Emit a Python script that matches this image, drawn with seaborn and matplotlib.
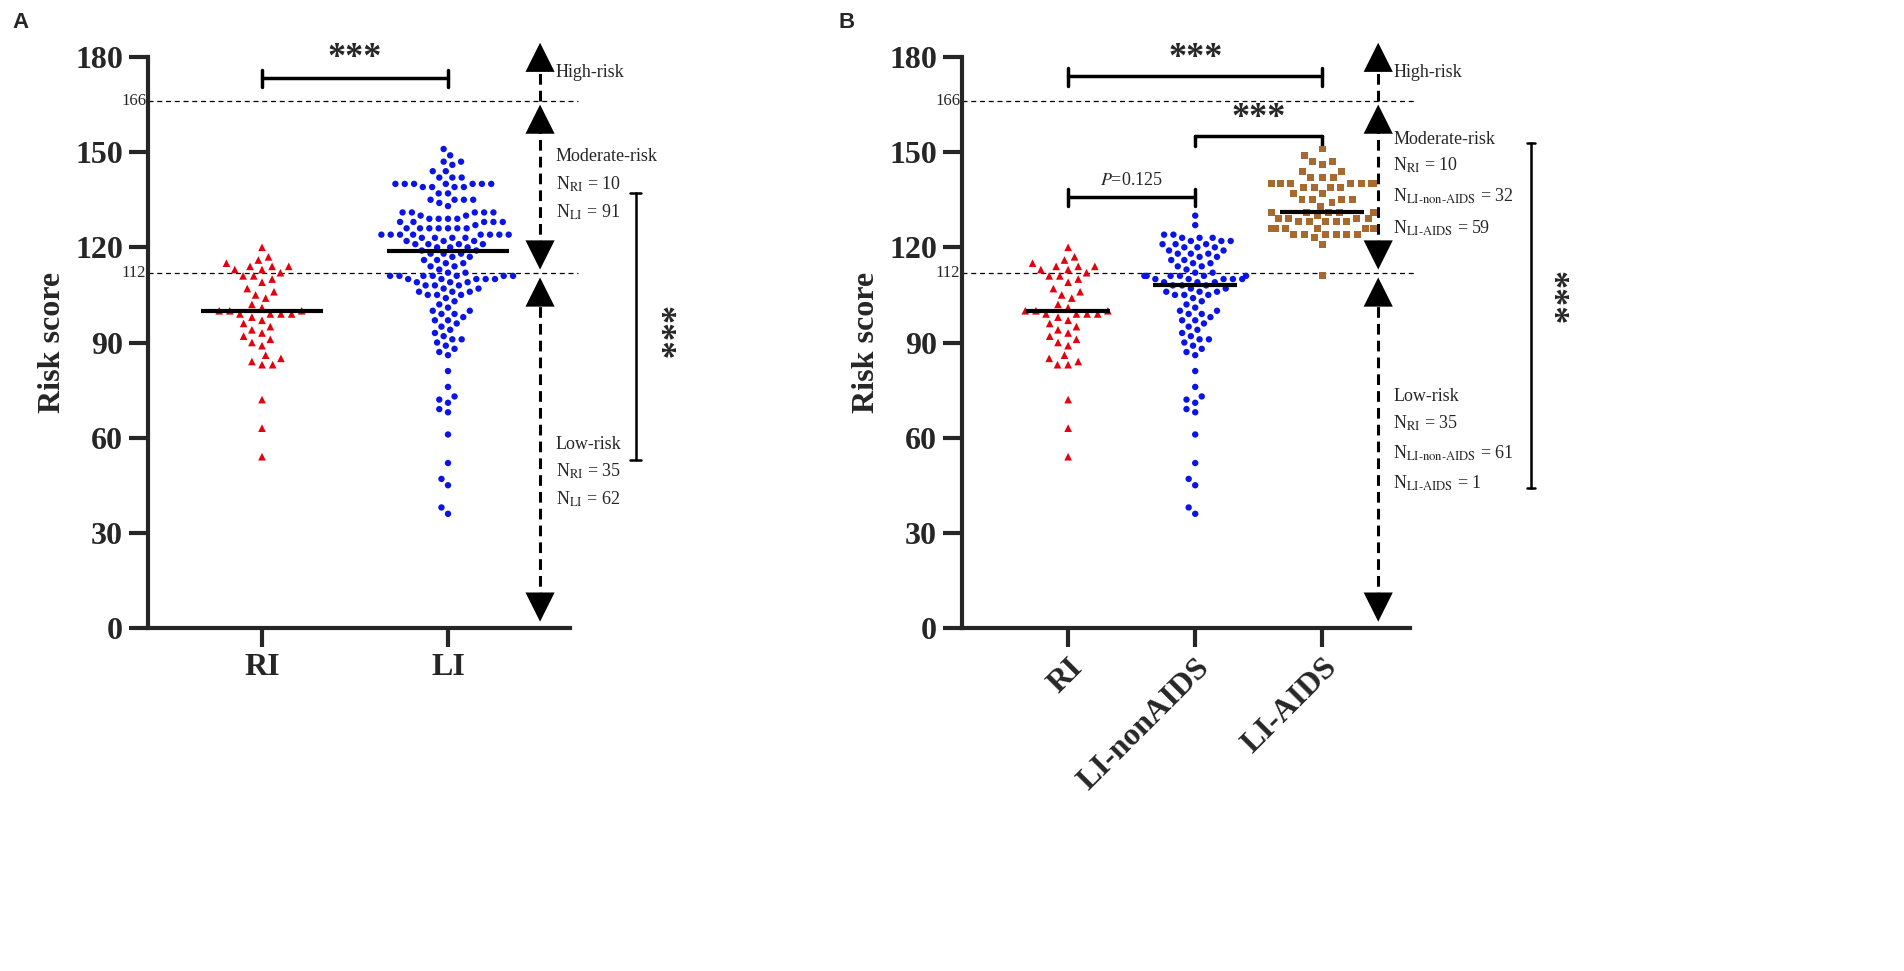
import matplotlib
matplotlib.use("Agg")
import matplotlib.pyplot as plt
import seaborn as sns
import numpy as np
import pandas as pd

# Data (risk scores)
ri = [120, 117, 116, 115, 114, 114, 114, 113, 113, 112,
      111, 111, 110, 109, 107, 106, 105, 104, 102, 101,
      100, 100, 100, 99, 99, 99, 99, 98, 97, 96,
      95, 94, 93, 92, 91, 90, 89, 86, 85, 84,
      83, 83, 72, 63, 54]

li_nonaids = ([130, 127, 124, 124, 123, 123, 123, 122, 122, 122,
               121, 121, 121, 120, 120, 120, 119, 119, 118, 118,
               118, 117, 117, 116, 116, 115, 115, 114, 114, 113,
               112, 112]
              + [111] * 6 + [110] * 5 + [109] * 3 + [108] * 3 + [107] * 2
              + [106] * 3 + [105] * 3
              + [104, 103, 102, 101, 100, 100, 99, 99, 98, 97, 97, 92,
                 96, 95, 94, 93, 91, 91, 90, 89,
                 88, 87, 86, 81, 76, 73, 72, 71, 69, 68, 61, 52, 47, 45, 38, 36])

li_aids = [151, 149, 147, 147, 146, 144, 144, 142, 142, 142,
           140, 140, 140, 140, 140, 140, 140, 139, 139, 139,
           139, 137, 137, 135, 135, 135, 135, 134, 133, 131,
           131, 131, 131, 131, 130, 129, 129, 129, 129, 128,
           128, 128, 128, 128, 126, 126, 126, 126, 126, 126,
           126, 124, 124, 124, 124, 124, 124, 123, 121, 111]

li = li_nonaids + li_aids

cats_a = ["RI", "LI"]
cats_b = ["RI", "LI-nonAIDS", "LI-AIDS"]
cut_low, cut_high = 112, 166

RED = "#e3000f"
BLUE = "#0b14e6"
BROWN = "#a66a30"

sns.set_style("ticks")
plt.rcParams["font.family"] = ["Liberation Serif", "DejaVu Serif"]
plt.rcParams["mathtext.fontset"] = "stix"

fig = plt.figure(figsize=(19.04, 9.71), dpi=100)
axA = fig.add_axes([148 / 1904, 1 - 628 / 971, (570 - 148) / 1904, (628 - 57) / 971])
axB = fig.add_axes([962 / 1904, 1 - 628 / 971, (1410 - 962) / 1904, (628 - 57) / 971])

TICK_FS = 23


def swarm(ax, name, vals, order, color, marker, size, gap):
    # an invisible edge widens the spacing seaborn uses between points
    sns.swarmplot(x=[name] * len(vals), y=vals, order=order, color=color,
                  marker=marker, size=size, linewidth=gap, edgecolor="none",
                  ax=ax, warn_thresh=1)
    i = order.index(name)
    med = np.median(vals)
    ax.plot([i - 0.33, i + 0.33], [med, med], color="black", lw=3,
            solid_capstyle="butt", zorder=5)


def style_axis(ax, xlim, xr):
    ax.set_xlim(*xlim)
    ax.set_ylim(0, 180)
    ax.set_yticks(np.arange(0, 181, 30))
    for s in ["top", "right"]:
        ax.spines[s].set_visible(False)
    for s in ["left", "bottom"]:
        ax.spines[s].set_linewidth(3)
    ax.tick_params(axis="both", width=3, length=14, labelsize=TICK_FS, pad=4)
    for lab in ax.get_yticklabels() + ax.get_xticklabels():
        lab.set_fontweight("bold")
    ax.set_ylabel("Risk score", fontsize=TICK_FS, fontweight="bold", labelpad=6)
    ax.set_xlabel("")
    # cut-off lines
    for c in (cut_low, cut_high):
        ax.plot([xlim[0], xr], [c, c], color="black", lw=0.9,
                linestyle=(0, (4, 3)), clip_on=False, zorder=1)
        ax.text(-0.004, c, str(c), transform=ax.get_yaxis_transform(),
                ha="right", va="center", fontsize=12)


def head(ax, x, tip, up):
    d = 10 if up else -10
    ax.annotate("", xy=(x, tip), xytext=(x, tip - d), annotation_clip=False,
                arrowprops=dict(arrowstyle="-|>,head_length=1.0,head_width=0.5",
                                mutation_scale=21, fc="black", ec="black",
                                lw=0, shrinkA=0, shrinkB=0))


def risk_arrows(ax, x):
    segs = [(166, 184.5, False, True), (113, 165, True, True), (2, 110.5, True, True)]
    for lo, hi, hlo, hhi in segs:
        ax.plot([x, x], [lo + (6 if hlo else 0), hi - 6], color="black", lw=2.2,
                linestyle=(0, (3.5, 2)), clip_on=False)
        if hhi:
            head(ax, x, hi, True)
        if hlo:
            head(ax, x, lo, False)


def bracket(ax, x0, x1, y, label, ly, fs=26, weight="bold", down_only=False):
    ax.plot([x0, x1], [y, y], color="black", lw=2.5, clip_on=False)
    for xx in (x0, x1):
        top = y if down_only else y + 2.5
        ax.plot([xx, xx], [y - 3, top], color="black", lw=2.5, clip_on=False)
    ax.text((x0 + x1) / 2, ly, label, ha="center", va="center", fontsize=fs,
            fontweight=weight, clip_on=False)


def vbracket(ax, x, y0, y1, tx, ty):
    ax.plot([x, x], [y0, y1], color="black", lw=1.8, clip_on=False)
    for yy in (y0, y1):
        ax.plot([x - 0.03, x + 0.03], [yy, yy], color="black", lw=1.8, clip_on=False)
    ax.text(tx, ty, "***", rotation=270, ha="center", va="center",
            fontsize=26, fontweight="bold", clip_on=False)


# Panel A
swarm(axA, "RI", ri, cats_a, RED, "^", 5.5, 1.8)
swarm(axA, "LI", li, cats_a, BLUE, "o", 4.6, 1.8)
style_axis(axA, (-0.613, 1.656), 1.70)
risk_arrows(axA, 1.495)
bracket(axA, 0, 1, 173.4, "***", 179.5)
vbracket(axA, 2.01, 53, 137, 2.13, 93)
fsz = 13
axA.text(1.58, 175, "High-risk", fontsize=fsz, va="center")
axA.text(1.58, 148.5, "Moderate-risk", fontsize=fsz, va="center")
axA.text(1.58, 140, r"N$_{\mathrm{RI}}$ = 10", fontsize=fsz, va="center")
axA.text(1.58, 131, r"N$_{\mathrm{LI}}$ = 91", fontsize=fsz, va="center")
axA.text(1.58, 58, "Low-risk", fontsize=fsz, va="center")
axA.text(1.58, 49.5, r"N$_{\mathrm{RI}}$ = 35", fontsize=fsz, va="center")
axA.text(1.58, 40.5, r"N$_{\mathrm{LI}}$ = 62", fontsize=fsz, va="center")

# Panel B
swarm(axB, "RI", ri, cats_b, RED, "^", 5.5, 1.8)
swarm(axB, "LI-nonAIDS", li_nonaids, cats_b, BLUE, "o", 4.6, 1.8)
swarm(axB, "LI-AIDS", li_aids, cats_b, BROWN, "s", 5, 2.2)
style_axis(axB, (-0.835, 2.69), 2.73)
plt.setp(axB.get_xticklabels(), rotation=45, ha="right", rotation_mode="anchor")
risk_arrows(axB, 2.44)
bracket(axB, 0, 2, 174, "***", 179.5)
bracket(axB, 1, 2, 155, "***", 160.5, down_only=True)
bracket(axB, 0, 1, 136, r"$\it{P}$=0.125", 141, fs=13, weight="normal")
vbracket(axB, 3.64, 44, 153, 3.80, 104)
axB.text(2.56, 175, "High-risk", fontsize=fsz, va="center")
axB.text(2.56, 154, "Moderate-risk", fontsize=fsz, va="center")
axB.text(2.56, 146, r"N$_{\mathrm{RI}}$ = 10", fontsize=fsz, va="center")
axB.text(2.56, 136, r"N$_{\mathrm{LI\text{-}non\text{-}AIDS}}$ = 32", fontsize=fsz, va="center")
axB.text(2.56, 126, r"N$_{\mathrm{LI\text{-}AIDS}}$ = 59", fontsize=fsz, va="center")
axB.text(2.56, 73, "Low-risk", fontsize=fsz, va="center")
axB.text(2.56, 64.5, r"N$_{\mathrm{RI}}$ = 35", fontsize=fsz, va="center")
axB.text(2.56, 55, r"N$_{\mathrm{LI\text{-}non\text{-}AIDS}}$ = 61", fontsize=fsz, va="center")
axB.text(2.56, 45.5, r"N$_{\mathrm{LI\text{-}AIDS}}$ = 1", fontsize=fsz, va="center")

fig.text(12 / 1904, 1 - 22 / 971, "A", fontsize=16, fontweight="bold",
         family="Liberation Sans", va="center")
fig.text(838 / 1904, 1 - 22 / 971, "B", fontsize=16, fontweight="bold",
         family="Liberation Sans", va="center")

fig.savefig("out.png", dpi=100)
